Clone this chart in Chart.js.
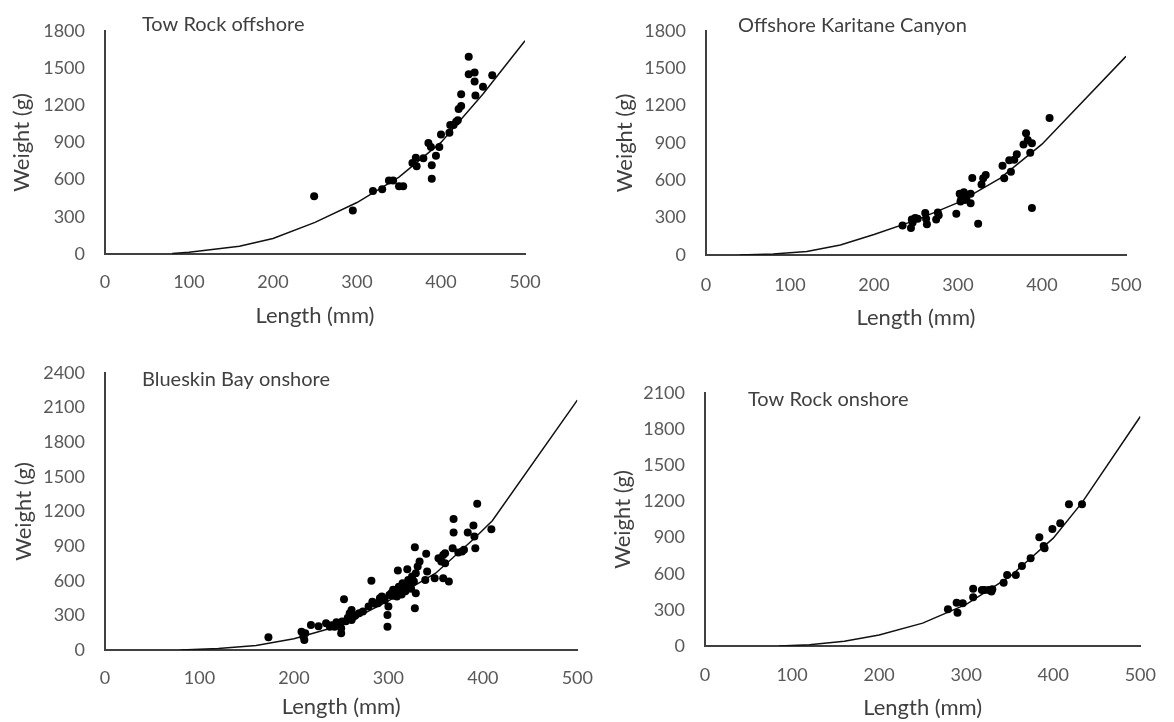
<!DOCTYPE html>
<html>
<head>
<meta charset="utf-8">
<script src="https://cdn.jsdelivr.net/npm/chart.js@4"></script>
<style>
  body { margin: 0; background: #fff; }
  #wrap { position: relative; width: 1174px; height: 722px; overflow: hidden; }
  canvas { position: absolute; }
</style>
</head>
<body>
<div id="wrap">
  <canvas id="c1" width="587" height="340" style="left:0;top:0"></canvas>
  <canvas id="c2" width="587" height="340" style="left:587px;top:0"></canvas>
  <canvas id="c3" width="610" height="382" style="left:0;top:340px"></canvas>
  <canvas id="c4" width="587" height="382" style="left:587px;top:340px"></canvas>
</div>
<script>
// Tow Rock offshore
const towOffLen = [249, 295, 319, 330, 338, 343, 350, 355, 366, 370, 371, 379, 385, 388, 389, 389, 394, 398, 400, 410, 411, 415, 418, 420, 421, 424, 424, 433, 433, 440, 440, 441, 450, 461];
const towOffWt = [465, 350, 509, 522, 593, 593, 547, 547, 734, 777, 708, 772, 895, 862, 716, 606, 793, 862, 964, 977, 1041, 1041, 1066, 1079, 1169, 1194, 1289, 1591, 1450, 1463, 1391, 1279, 1348, 1442];
const towOffFitLen = [80, 100, 160, 200, 250, 300, 350, 400, 450, 500];
const towOffFitWt = [5, 14, 62, 125, 255, 415, 620, 900, 1290, 1720];

// Offshore Karitane Canyon
const karLen = [234, 244, 245, 246, 249, 252, 261, 262, 263, 274, 276, 277, 298, 302, 303, 304, 307, 308, 310, 315, 315, 317, 324, 328, 330, 333, 353, 355, 361, 363, 367, 370, 378, 381, 383, 386, 388, 388, 409];
const karWt = [237, 217, 286, 260, 298, 291, 337, 291, 247, 286, 342, 319, 332, 492, 429, 452, 503, 441, 457, 416, 492, 619, 250, 566, 617, 643, 717, 617, 760, 668, 765, 809, 888, 977, 923, 821, 898, 378, 1099];
const karFitLen = [40, 80, 120, 160, 200, 250, 300, 350, 400, 500];
const karFitWt = [0, 8, 28, 80, 165, 280, 420, 615, 890, 1595];

// Blueskin Bay onshore
const blueLen = [173, 208, 210, 212, 211, 218, 234, 238, 243, 248, 250, 251, 250, 253, 259, 261, 261, 263, 269, 273, 279, 283, 282, 289, 291, 293, 299, 299, 300, 301, 303, 305, 307, 309, 311, 313, 315, 310, 317, 319, 321, 323, 325, 327, 329, 320, 328, 328, 329, 331, 333, 339, 341, 340, 349, 353, 356, 358, 360, 358, 364, 360, 369, 369, 368, 374, 378, 380, 384, 390, 391, 392, 394, 409,
  305, 308, 312, 314, 316, 318, 322, 324, 296, 294, 286, 265, 257, 255, 245, 240, 226];
const blueWt = [110, 159, 116, 145, 87, 217, 231, 202, 202, 231, 188, 246, 145, 440, 318, 260, 347, 289, 318, 333, 376, 419, 601, 405, 448, 463, 304, 202, 376, 477, 492, 521, 506, 463, 549, 492, 578, 688, 521, 573, 607, 549, 636, 593, 665, 700, 891, 361, 492, 723, 766, 607, 680, 833, 622, 795, 766, 824, 752, 622, 593, 839, 1134, 1018, 882, 844, 853, 868, 1018, 1079, 983, 882, 1267, 1047,
  470, 500, 520, 480, 540, 510, 560, 530, 430, 450, 400, 300, 280, 250, 240, 215, 205];
const blueFitLen = [80, 120, 160, 200, 250, 300, 350, 390, 410, 500];
const blueFitWt = [0, 12, 40, 98, 215, 425, 665, 960, 1120, 2165];

// Tow Rock onshore
const towOnLen = [279, 289, 290, 296, 308, 308, 318, 321, 326, 330, 329, 343, 347, 357, 364, 374, 384, 389, 390, 399, 408, 418, 433];
const towOnWt = [305, 360, 277, 355, 476, 404, 465, 465, 465, 471, 452, 526, 590, 590, 665, 729, 903, 831, 812, 972, 1019, 1177, 1177];
const towOnFitLen = [85, 120, 160, 200, 250, 300, 350, 400, 433, 500];
const towOnFitWt = [0, 10, 40, 92, 190, 345, 575, 895, 1190, 1905];

const panelTitles = ['Tow Rock offshore', 'Offshore Karitane Canyon', 'Blueskin Bay onshore', 'Tow Rock onshore'];
const yMaxes = [1800, 1800, 2400, 2100];
const xMax = 500;
const tickStep = { x: 100, y: 300 };

const font = 'Lato';
const pts = (xs, ys) => xs.map((x, i) => ({ x: x, y: ys[i] }));

// draws the panel label inside the plot area
const panelLabel = {
  id: 'panelLabel',
  afterDraw(chart, args, opts) {
    const ctx = chart.ctx;
    ctx.save();
    ctx.font = '20px ' + font;
    ctx.fillStyle = '#404040';
    ctx.textBaseline = 'middle';
    ctx.fillText(opts.text, opts.x, opts.y);
    ctx.restore();
  }
};

function makePanel(id, idx, len, wt, fitLen, fitWt, lay) {
  return new Chart(document.getElementById(id), {
    type: 'scatter',
    data: {
      datasets: [
        {
          data: pts(len, wt),
          backgroundColor: '#000',
          borderColor: '#000',
          pointRadius: 4,
          borderWidth: 0
        },
        {
          data: pts(fitLen, fitWt),
          showLine: true,
          borderColor: '#111',
          borderWidth: 1.5,
          pointRadius: 0,
          tension: 0
        }
      ]
    },
    options: {
      responsive: false,
      animation: false,
      layout: { padding: { left: lay.pl, right: lay.pr, top: lay.pt, bottom: lay.pb } },
      plugins: {
        legend: { display: false },
        tooltip: { enabled: false },
        panelLabel: { text: panelTitles[idx], x: lay.tx, y: lay.ty }
      },
      scales: {
        x: {
          min: 0, max: xMax,
          afterFit: s => { s.height = lay.xh; },
          grid: { display: true, drawOnChartArea: false, drawTicks: false },
          border: { display: true, color: '#404040', width: 2 },
          ticks: { stepSize: tickStep.x, padding: lay.xp, color: '#595959', font: { family: font, size: 18 },
            format: { useGrouping: false } },
          title: { display: true, text: 'Length (mm)', color: '#404040', padding: 0, font: { family: font, size: 22 } }
        },
        y: {
          min: 0, max: yMaxes[idx],
          afterFit: s => { s.width = lay.yw; },
          grid: { display: true, drawOnChartArea: false, drawTicks: false },
          border: { display: true, color: '#404040', width: 2 },
          ticks: { stepSize: tickStep.y, padding: 20, color: '#595959', font: { family: font, size: 18 },
            format: { useGrouping: false } },
          title: { display: true, text: 'Weight (g)', color: '#404040', padding: 0, font: { family: font, size: 22 } }
        }
      }
    },
    plugins: [panelLabel]
  });
}

makePanel('c1', 0, towOffLen, towOffWt, towOffFitLen, towOffFitWt,
  { pl: 9, pr: 62, pt: 19, pb: 11, yw: 96, xh: 75, xp: 17, tx: 142, ty: 25 });
makePanel('c2', 1, karLen, karWt, karFitLen, karFitWt,
  { pl: 25, pr: 48, pt: 21, pb: 9, yw: 94, xh: 76, xp: 19, tx: 151, ty: 26 });
makePanel('c3', 2, blueLen, blueWt, blueFitLen, blueFitWt,
  { pl: 11, pr: 30, pt: 33, pb: 2, yw: 94, xh: 70, xp: 17, tx: 142, ty: 40 });
makePanel('c4', 3, towOnLen, towOnWt, towOnFitLen, towOnFitWt,
  { pl: 23, pr: 21, pt: 53, pb: 1, yw: 95, xh: 75, xp: 18, tx: 161, ty: 60 });
</script>
</body>
</html>
